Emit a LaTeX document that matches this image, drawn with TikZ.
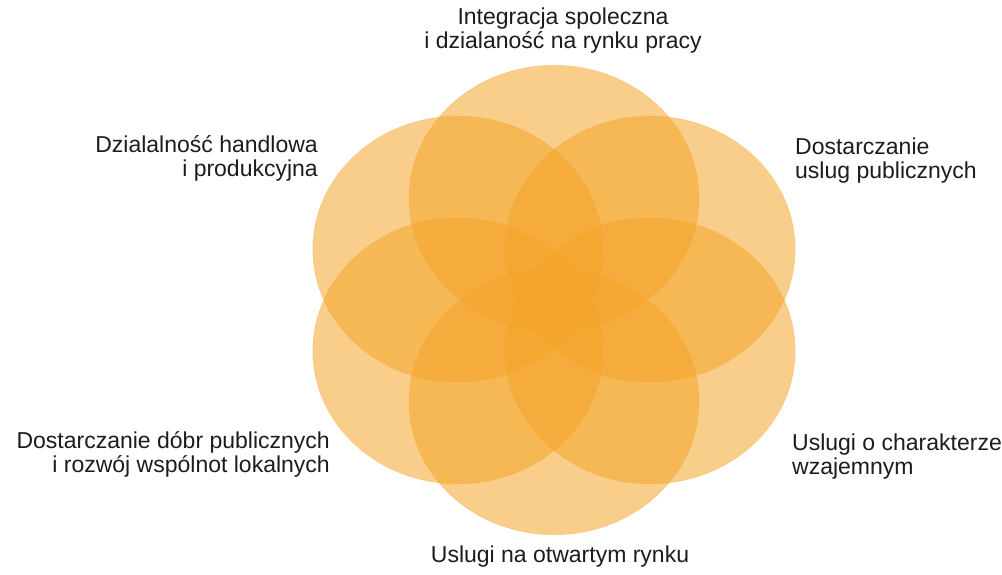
\documentclass[tikz,border=0pt]{standalone}
\usepackage{fontspec}
\setmainfont{Liberation Sans}
\usepackage{tikz}
\definecolor{petal}{RGB}{244,164,42}
\definecolor{labeltext}{RGB}{28,28,28}

\begin{document}
\begin{tikzpicture}[
  x=1pt,y=-1pt,
  petal/.style={fill=petal,fill opacity=0.55,draw=petal,draw opacity=0.3,line width=0.8pt},
  lbl/.style={inner sep=0pt,text=labeltext,font=\fontsize{23}{24}\selectfont}]
\useasboundingbox (0,0) rectangle (1002,574);
\coordinate (mid) at (554,300);
\foreach \name/\ang in {top/90,ur/30,lr/-30,bot/-90,ll/-150,ul/150}
  \coordinate (c-\name) at ({554+111*cos(\ang)},{300-101.7*sin(\ang)});
\foreach \name in {top,ur,lr,bot,ll,ul}
  \path[petal] (c-\name) ellipse [x radius=145pt,y radius=133pt];
\node[lbl,align=center,anchor=north] (integr) at (563,8)
  {Integracja spoleczna\\i dzialaność na rynku pracy};
\node[lbl,align=right,anchor=north east] (handl) at (318,135)
  {Dzialalność handlowa\\i produkcyjna};
\node[lbl,align=left,anchor=north west] (uslpub) at (795,138)
  {Dostarczanie\\uslug publicznych};
\node[lbl,align=right,anchor=north east] (dobra) at (330,431)
  {Dostarczanie dóbr publicznych\\i rozwój wspólnot lokalnych};
\node[lbl,align=left,anchor=north west] (wzaj) at (792,434)
  {Uslugi o charakterze\\wzajemnym};
\node[lbl,anchor=north] (rynek) at (560,546) {Uslugi na otwartym rynku};
\end{tikzpicture}
\end{document}
